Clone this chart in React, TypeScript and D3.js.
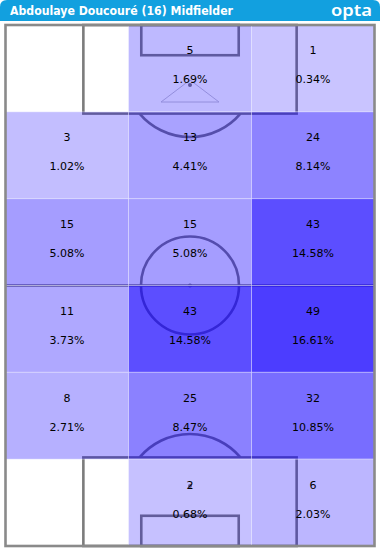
import React from "react";
import * as d3 from "d3";

const title = "Abdoulaye Doucouré (16) Midfielder";
const brand = "opta";
const columns = ["left", "centre", "right"];
const rows = ["r1", "r2", "r3", "r4", "r5", "r6"];
const counts = [
  [0, 5, 1],
  [3, 13, 24],
  [15, 15, 43],
  [11, 43, 49],
  [8, 25, 32],
  [0, 2, 6],
];
const percents = [
  [0, 1.69, 0.34],
  [1.02, 4.41, 8.14],
  [5.08, 5.08, 14.58],
  [3.73, 14.58, 16.61],
  [2.71, 8.47, 10.85],
  [0, 0.68, 2.03],
];

const W = 380;
const H = 552;
const L = 5.5, R = 374.5, T = 25, B = 546;

export default function App() {
  const x = d3.scaleBand().domain(columns).range([L, R]);
  const y = d3.scaleBand().domain(rows).range([T, B]);
  const px = d3.scaleLinear().domain([0, 100]).range([L, R]);
  const py = d3.scaleLinear().domain([0, 100]).range([T, B]);
  const maxP = d3.max(percents.flat()) as number;
  const op = d3.scaleLinear().domain([0, maxP]).range([0.22, 0.76]);

  const cx = px(50);
  const lineCol = "#7c7c7c";
  const lw = 2.6;
  const arcR = 66;
  const boxTop = py(17);
  const boxBot = py(83);
  const arcTopCy = T + 46;
  const arcBotCy = B - 46;
  const dyTop = boxTop - arcTopCy;
  const dxTop = Math.sqrt(arcR * arcR - dyTop * dyTop);
  const dyBot = arcBotCy - boxBot;
  const dxBot = Math.sqrt(arcR * arcR - dyBot * dyBot);

  const cells: any[] = [];
  rows.forEach((r, i) =>
    columns.forEach((c, j) => {
      cells.push({ r, c, n: counts[i][j], p: percents[i][j] });
    })
  );

  return (
    <svg width={W} height={H} style={{ position: "absolute", left: 0, top: 0 }} fontFamily="DejaVu Sans, Verdana, sans-serif">
      <rect x={0} y={0} width={W} height={H} fill="#fff" />
      <path d={`M0,21 L0,7 Q0,0 7,0 L${W - 7},0 Q${W},0 ${W},7 L${W},21 Z`} fill="#12a0df" />
      <text x={10} y={15} fill="#fff" fontSize={12} fontWeight="bold" textLength={223} lengthAdjust="spacingAndGlyphs">{title}</text>
      <text x={331} y={16} fill="#fff" fontSize={16} fontFamily="Noto Sans, sans-serif" fontWeight={600} textLength={41} lengthAdjust="spacingAndGlyphs">{brand}</text>

      {/* pitch lines under cells */}
      <g fill="none" stroke={lineCol} strokeWidth={lw}>
        <rect x={px(21.1)} y={T} width={px(78.9) - px(21.1)} height={boxTop - T} />
        <rect x={px(36.8)} y={T} width={px(63.2) - px(36.8)} height={py(5.8) - T} />
        <rect x={px(21.1)} y={boxBot} width={px(78.9) - px(21.1)} height={B - boxBot} />
        <rect x={px(36.8)} y={py(94.2)} width={px(63.2) - px(36.8)} height={B - py(94.2)} />
        <line x1={L} x2={R} y1={py(50)} y2={py(50)} />
        <circle cx={cx} cy={py(50)} r={49} />
        <path d={`M${cx - dxTop},${boxTop} A${arcR},${arcR} 0 0 0 ${cx + dxTop},${boxTop}`} />
        <path d={`M${cx - dxBot},${boxBot} A${arcR},${arcR} 0 0 1 ${cx + dxBot},${boxBot}`} />
      </g>
      <g fill="none" stroke="#c4c4d0" strokeWidth={1}>
        <path d={`M${cx - 29},${T + 77} L${cx},${T + 55} L${cx + 29},${T + 77} Z`} />
      </g>
      <g fill={lineCol}>
        <circle cx={cx} cy={py(50)} r={2} />
        <circle cx={cx} cy={py(11.5)} r={2} />
        <circle cx={cx} cy={py(88.5)} r={2} />
      </g>

      {/* heat cells */}
      <g>
        {cells.filter((d) => d.n > 0).map((d, k) => (
          <rect key={k} x={x(d.c)} y={y(d.r)} width={x.bandwidth()} height={y.bandwidth()}
            fill="rgb(20,0,255)" fillOpacity={op(d.p)} stroke="rgba(255,255,255,0.35)" strokeWidth={1} />
        ))}
      </g>

      {/* outer border */}
      <rect x={L} y={T} width={R - L} height={B - T} fill="none" stroke="#8a8a8a" strokeWidth={2.6} />

      <g fontSize={11} fill="#000" textAnchor="middle">
        {cells.filter((d) => d.n > 0).map((d, k) => {
          const mx = (x(d.c) as number) + x.bandwidth() / 2;
          const my = (y(d.r) as number) + y.bandwidth() / 2;
          return (
            <g key={k}>
              <text x={mx} y={my - 14}>{d.n}</text>
              <text x={mx} y={my + 15}>{d.p.toFixed(2)}%</text>
            </g>
          );
        })}
      </g>
    </svg>
  );
}
